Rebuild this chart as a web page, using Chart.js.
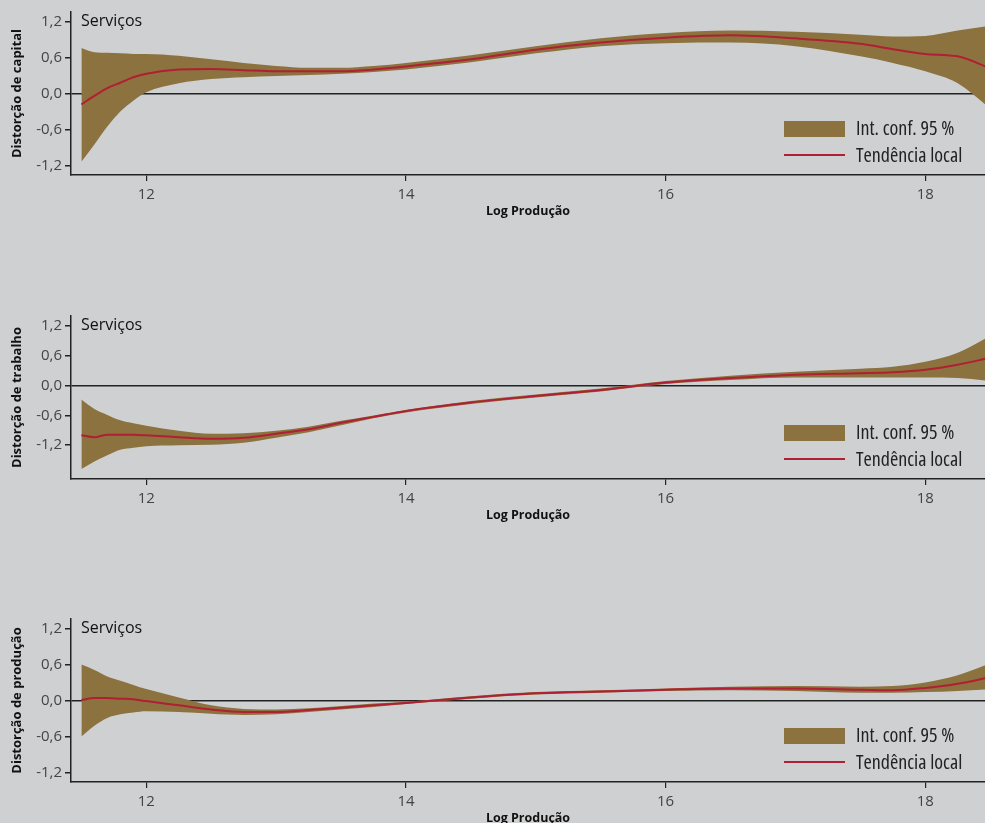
<!DOCTYPE html>
<html lang="pt">
<head>
<meta charset="utf-8">
<script src="https://cdn.jsdelivr.net/npm/chart.js@4.4.1/dist/chart.umd.min.js"></script>
<style>
  html, body { margin: 0; padding: 0; width: 985px; height: 823px; overflow: hidden; background: #cfd0d2; }
  .panel { position: absolute; left: 0; width: 985px; height: 230px; }
  .panel canvas { position: absolute; left: 0; top: 0; }
  .sector { position: absolute; left: 81px; top: 9px; font: 16px 'Open Sans', sans-serif; color: #111; line-height: 22px; }
  .swatch { position: absolute; left: 784px; top: 121px; width: 61px; height: 16px; background: #8c723e; }
  .trendkey { position: absolute; left: 784px; top: 154px; width: 61px; height: 2px; background: #b01f33; }
  .legtext { position: absolute; left: 856px; font: 20px 'Open Sans', sans-serif; font-stretch: 75%; color: #222; line-height: 20px; white-space: nowrap; }
</style>
</head>
<body>
<div class="panel" id="p1" style="top:0px"><canvas id="c1"></canvas></div>
<div class="panel" id="p2" style="top:304px"><canvas id="c2"></canvas></div>
<div class="panel" id="p3" style="top:607px"><canvas id="c3"></canvas></div>

<script>
// Log of output (x positions of the smoothed estimates)
const logProducao = [11.5, 11.6, 11.7, 11.8, 11.9, 12.0, 12.25, 12.5, 12.75, 13.0, 13.25, 13.5, 13.75,
                     14.0, 14.5, 15.0, 15.5, 16.0, 16.5, 17.0, 17.5, 17.75, 18.0, 18.25, 18.5];

// Capital distortion: local trend and 95% band
const capitalTrend = [-0.18, -0.04, 0.09, 0.18, 0.27, 0.33, 0.40, 0.41, 0.39, 0.37, 0.37, 0.37, 0.40,
                      0.45, 0.57, 0.73, 0.85, 0.93, 0.97, 0.92, 0.83, 0.74, 0.66, 0.62, 0.42];
const capitalUpper = [0.76, 0.69, 0.68, 0.67, 0.66, 0.66, 0.63, 0.57, 0.51, 0.46, 0.43, 0.43, 0.46,
                      0.51, 0.64, 0.79, 0.92, 1.01, 1.05, 1.03, 0.98, 0.95, 0.96, 1.05, 1.13];
const capitalLower = [-1.14, -0.85, -0.55, -0.30, -0.12, 0.02, 0.17, 0.24, 0.27, 0.29, 0.31, 0.33, 0.36,
                      0.40, 0.52, 0.67, 0.79, 0.84, 0.85, 0.79, 0.62, 0.51, 0.37, 0.17, -0.25];

// Labour distortion
const trabalhoTrend = [-1.00, -1.04, -0.99, -0.99, -0.99, -1.00, -1.04, -1.07, -1.05, -0.97, -0.88, -0.75, -0.63,
                       -0.51, -0.34, -0.21, -0.09, 0.06, 0.15, 0.22, 0.25, 0.27, 0.32, 0.42, 0.56];
const trabalhoUpper = [-0.28, -0.47, -0.59, -0.70, -0.76, -0.81, -0.91, -0.97, -0.96, -0.91, -0.83, -0.71, -0.60,
                       -0.49, -0.31, -0.18, -0.06, 0.09, 0.20, 0.28, 0.34, 0.38, 0.48, 0.66, 1.00];
const trabalhoLower = [-1.68, -1.53, -1.40, -1.29, -1.25, -1.22, -1.20, -1.19, -1.15, -1.05, -0.94, -0.80, -0.66,
                       -0.54, -0.37, -0.24, -0.12, 0.03, 0.11, 0.16, 0.16, 0.16, 0.16, 0.15, 0.09];

// Output distortion
const producaoTrend = [0.01, 0.04, 0.04, 0.03, 0.02, -0.01, -0.08, -0.15, -0.19, -0.19, -0.16, -0.12, -0.08,
                       -0.04, 0.05, 0.12, 0.15, 0.18, 0.20, 0.20, 0.18, 0.17, 0.21, 0.28, 0.39];
const producaoUpper = [0.60, 0.51, 0.40, 0.33, 0.26, 0.19, 0.05, -0.08, -0.14, -0.15, -0.13, -0.09, -0.05,
                       -0.02, 0.07, 0.14, 0.17, 0.20, 0.23, 0.24, 0.23, 0.24, 0.30, 0.42, 0.62];
const producaoLower = [-0.60, -0.42, -0.29, -0.23, -0.20, -0.18, -0.19, -0.22, -0.24, -0.23, -0.19, -0.15, -0.11,
                       -0.06, 0.03, 0.10, 0.13, 0.16, 0.17, 0.16, 0.13, 0.13, 0.14, 0.16, 0.19];

const xTicks = [12, 14, 16, 18];
const yTicks = [-1.2, -0.6, 0, 0.6, 1.2];
const sectorName = 'Serviços';
const xTitle = 'Log Produção';
const bandLabel = 'Int. conf. 95 %';
const trendLabel = 'Tendência local';

const BAND = '#8c723e';
const RED = '#b01f33';
const INK = '#222';

function pairs(ys) { return logProducao.map((x, i) => ({ x: x, y: ys[i] })); }

function makePanel(panelId, canvasId, yTitle, trend, upper, lower, yMin, yMax) {
  const panel = document.getElementById(panelId);
  const s = document.createElement('div'); s.className = 'sector'; s.textContent = sectorName; panel.appendChild(s);
  const sw = document.createElement('div'); sw.className = 'swatch'; panel.appendChild(sw);
  const tk = document.createElement('div'); tk.className = 'trendkey'; panel.appendChild(tk);
  const t1 = document.createElement('div'); t1.className = 'legtext'; t1.style.top = '118px'; t1.textContent = bandLabel; panel.appendChild(t1);
  const t2 = document.createElement('div'); t2.className = 'legtext'; t2.style.top = '145px'; t2.textContent = trendLabel; panel.appendChild(t2);

  new Chart(document.getElementById(canvasId), {
    type: 'line',
    data: {
      datasets: [
        { label: trendLabel, data: pairs(trend), borderColor: RED, borderWidth: 2, pointRadius: 0, fill: false, cubicInterpolationMode: 'monotone' },
        { label: bandLabel, data: pairs(upper), borderWidth: 0, borderColor: 'rgba(0,0,0,0)', backgroundColor: BAND, pointRadius: 0, fill: false, cubicInterpolationMode: 'monotone' },
        { label: bandLabel, data: pairs(lower), borderWidth: 0, borderColor: 'rgba(0,0,0,0)', backgroundColor: BAND, pointRadius: 0, fill: '-1', cubicInterpolationMode: 'monotone' }
      ]
    },
    options: {
      responsive: true,
      maintainAspectRatio: false,
      animation: false,
      devicePixelRatio: 1,
      layout: { padding: { top: 10, right: 0, bottom: 7, left: 0 } },
      plugins: { legend: { display: false }, tooltip: { enabled: false } },
      scales: {
        x: {
          type: 'linear', min: 11.42, max: 18.46,
          afterBuildTicks: sc => { sc.ticks = xTicks.map(v => ({ value: v })); },
          afterFit: sc => { sc.height = 48; },
          ticks: { color: '#444', font: { family: "'Open Sans', sans-serif", size: 15 }, padding: 5, maxRotation: 0 },
          grid: { drawOnChartArea: false, drawTicks: true, tickLength: 6, color: INK, lineWidth: 1.2 },
          border: { display: true, color: INK, width: 1.5 },
          title: { display: true, text: xTitle, color: '#111', font: { family: "'Open Sans', sans-serif", size: 12.5, weight: 'bold' }, padding: { top: 0, bottom: 4 } }
        },
        y: {
          min: yMin, max: yMax,
          afterBuildTicks: sc => { sc.ticks = yTicks.map(v => ({ value: v })); },
          afterFit: sc => { sc.width = 71; },
          ticks: { color: '#444', font: { family: "'Open Sans', sans-serif", size: 15 }, padding: 3,
                   callback: v => v.toFixed(1).replace('.', ',') },
          grid: { drawOnChartArea: true, drawTicks: true, tickLength: 6,
                  color: c => (c.tick && c.tick.value === 0) ? INK : 'rgba(0,0,0,0)',
                  tickColor: INK, lineWidth: 1.5 },
          border: { display: true, color: INK, width: 1.5 },
          title: { display: true, text: yTitle, color: '#111', font: { family: "'Open Sans', sans-serif", size: 13, weight: 'bold' }, padding: { top: 9, bottom: 0 } }
        }
      }
    }
  });
}

makePanel('p1', 'c1', 'Distorção de capital', capitalTrend, capitalUpper, capitalLower, -1.36, 1.36);
makePanel('p2', 'c2', 'Distorção de trabalho', trabalhoTrend, trabalhoUpper, trabalhoLower, -1.88, 1.40);
makePanel('p3', 'c3', 'Distorção de produção', producaoTrend, producaoUpper, producaoLower, -1.36, 1.36);
</script>
</body>
</html>
